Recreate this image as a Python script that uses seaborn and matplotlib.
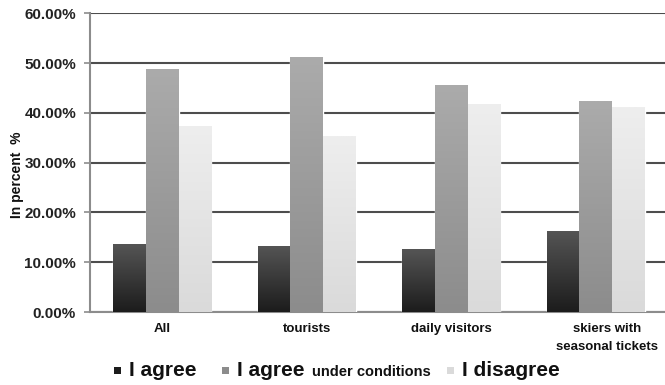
import numpy as np
import pandas as pd
import matplotlib
matplotlib.use("Agg")
import matplotlib.pyplot as plt
from matplotlib.colors import LinearSegmentedColormap
from matplotlib.ticker import FuncFormatter
import matplotlib.transforms as mtransforms
import seaborn as sns

# ---- data -------------------------------------------------------------
groups = ["All", "tourists", "daily visitors", "skiers with\nseasonal tickets"]
answers = ["I agree", "I agree under conditions", "I disagree"]
agree = [13.6, 13.3, 12.6, 16.3]
agree_conditions = [48.9, 51.3, 45.6, 42.3]
disagree = [37.4, 35.3, 41.8, 41.1]
y_ticks = [0, 10, 20, 30, 40, 50, 60]

df = pd.DataFrame({
    "group": groups * 3,
    "answer": [answers[0]] * 4 + [answers[1]] * 4 + [answers[2]] * 4,
    "value": agree + agree_conditions + disagree,
})

# bar shading: (top colour, bottom colour) per answer
shades = {
    answers[0]: ("#555555", "#1c1c1c"),
    answers[1]: ("#ababab", "#8c8c8c"),
    answers[2]: ("#eeeeee", "#dadada"),
}
flat = {k: v[1] for k, v in shades.items()}

sns.set_theme(style="white")
plt.rcParams["font.family"] = ["Liberation Sans", "DejaVu Sans"]

W, H = 665, 385
fig = plt.figure(figsize=(W / 100, H / 100), dpi=100)
fig.patch.set_facecolor("white")
ax = fig.add_axes([90 / W, 73 / H, 578 / W, 298.7 / H])

sns.barplot(data=df, x="group", y="value", hue="answer", order=groups,
            hue_order=answers, palette=flat, width=0.675, dodge=True,
            saturation=1, errorbar=None, ax=ax, legend=False, zorder=3)

# vertical gradient inside every bar
for container, ans in zip(ax.containers, answers):
    top, bottom = shades[ans]
    cmap = LinearSegmentedColormap.from_list(ans, [bottom, top])
    grad = np.linspace(0, 1, 128).reshape(-1, 1)
    for patch in container:
        x0, y0 = patch.get_x(), patch.get_y()
        w, h = patch.get_width(), patch.get_height()
        im = ax.imshow(grad, cmap=cmap, origin="lower", aspect="auto",
                       extent=(x0, x0 + w, y0, y0 + h), zorder=3.5,
                       interpolation="bilinear")
        im.set_clip_path(patch)
ax.set_xlim(-0.5, 3.5)
ax.set_ylim(0, 60)

# axes styling
ax.set_yticks(y_ticks)
ax.yaxis.set_major_formatter(FuncFormatter(lambda v, p: f"{v:.2f}%"))
ax.grid(axis="y", color="#4d4d4d", linewidth=1.5, zorder=0)
ax.set_axisbelow(True)
for s in ("top", "right"):
    ax.spines[s].set_visible(False)
for s in ("left", "bottom"):
    ax.spines[s].set_color("#8c8c8c")
    ax.spines[s].set_linewidth(1.5)
ax.tick_params(axis="y", left=True, length=4, width=1.2, color="#8c8c8c",
               pad=6, labelsize=11, labelcolor="#222222")
ax.tick_params(axis="x", bottom=False, length=0, pad=8, labelsize=9.5,
               labelcolor="#111111")
for lab in ax.get_yticklabels():
    lab.set_fontweight("bold")
for lab in ax.get_xticklabels():
    lab.set_fontweight("bold")
    lab.set_linespacing(1.6)
    if "\n" in lab.get_text():
        lab.set_transform(lab.get_transform() +
                          mtransforms.ScaledTranslation(11 / 100, 0, fig.dpi_scale_trans))

ax.set_xlabel("")
ax.set_ylabel("In percent  %", fontsize=10, fontweight="bold",
              color="#111111")
ax.yaxis.set_label_coords(-0.115, 0.46)

# legend drawn along the bottom edge
legend_y = (H - 370) / H
sq = 7
fig.canvas.draw()
renderer = fig.canvas.get_renderer()
items = [(answers[0], 114, "I agree", None),
         (answers[1], 222, "I agree", "under conditions"),
         (answers[2], 447, "I disagree", None)]
for ans, xpx, big, small in items:
    fig.patches.append(plt.Rectangle((xpx / W, legend_y - sq / 2 / H), sq / W, sq / H,
                                     transform=fig.transFigure, figure=fig,
                                     facecolor=shades[ans][1], edgecolor="none"))
    t = fig.text((xpx + 15) / W, legend_y, big, fontsize=15, fontweight="bold",
                 color="#111111", ha="left", va="center")
    if small:
        bb = t.get_window_extent(renderer)
        fig.text(bb.x1 / W + 8 / W, legend_y - 2 / H, small, fontsize=10.5,
                 fontweight="bold", color="#111111", ha="left", va="center")

fig.savefig("out.png", dpi=100, facecolor="white")
